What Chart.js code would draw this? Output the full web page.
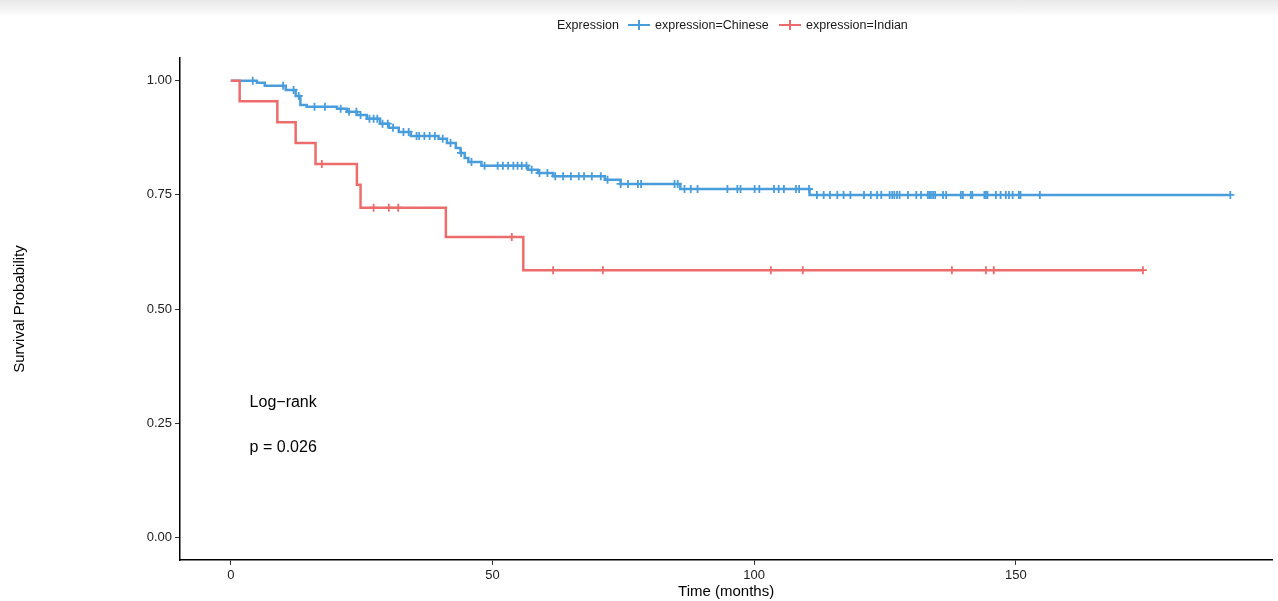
<!DOCTYPE html>
<html>
<head>
<meta charset="utf-8">
<script src="https://cdn.jsdelivr.net/npm/chart.js@4.4.0/dist/chart.umd.min.js"></script>
<style>
  html, body { margin: 0; padding: 0; background: #fff; }
  #wrap { position: relative; width: 1278px; height: 601px; }
  #shade { position: absolute; left: 0; top: 0; width: 1278px; height: 16px;
           background: linear-gradient(#e9e9e9, #f6f6f6 70%, #fff); }
  .lg { position: absolute; top: 17px; font: 12.5px "Liberation Sans", Arial, sans-serif;
        color: #1a1a1a; white-space: nowrap; line-height: 16px; }
  .key { position: absolute; top: 24px; width: 22px; height: 2px; }
  .key::after { content: ""; position: absolute; left: 10px; top: -4px; width: 2px; height: 10px; background: inherit; }
</style>
</head>
<body>
<div id="wrap">
  <div id="shade"></div>
  <canvas id="km" width="1278" height="601"></canvas>
  <span class="lg" style="left:557px">Expression</span>
  <span class="key" style="left:628px;background:#4a9ddb"></span>
  <span class="lg" style="left:655px">expression=Chinese</span>
  <span class="key" style="left:779px;background:#ee6b6b"></span>
  <span class="lg" style="left:806px">expression=Indian</span>
</div>
<script>
const blue = "#4a9ddb";
const red = "#ee6b6b";

// Kaplan-Meier steps (time in months, survival after the drop)
const chineseEventTime = [5, 6.5, 10.5, 12.4, 13.3, 14.5, 20.3, 22.2, 24.1, 26, 28.5, 30.2, 32.1, 34.4,
  39.7, 41.3, 43, 43.9, 44.7, 45.4, 47.9, 56.8, 58.7, 61.6, 71.5, 74.5, 85.9, 110.6];
const chineseEventSurv = [0.996, 0.989, 0.980, 0.967, 0.947, 0.943, 0.939, 0.932, 0.925, 0.917, 0.906, 0.897, 0.888, 0.879,
  0.873, 0.864, 0.853, 0.842, 0.831, 0.822, 0.814, 0.805, 0.798, 0.791, 0.783, 0.774, 0.763, 0.750];
const chineseEnd = 191;
const chineseCensorTime = [4.2, 10, 12, 13, 16, 18, 21, 22.6, 24, 24.8, 26.5, 27.3, 28, 29, 30, 31, 33, 34, 35.5, 36,
  37, 38, 39, 40.5, 42, 44, 46, 48.5, 51, 52, 53, 54, 54.8, 55.6, 56.5, 57.5, 59, 60.5, 62, 63.5, 65, 66.5, 67.5,
  69, 70.7, 72, 74.5, 75.9, 77.8, 78.4, 84.8, 85.4, 86.7, 87.9, 89.2, 94.9, 96.8, 97.4, 100.1, 101, 103.8, 104.7,
  105.7, 108, 108.6, 110.5, 112, 113.3, 114.5, 115.9, 117.1, 118.4, 121, 122.3, 123.5, 124.3, 125.9, 126.4, 126.8,
  127.3, 127.8, 129.4, 131.0, 131.9, 133.2, 133.5, 133.8, 134.2, 134.6, 136.1, 136.7, 139.5, 139.9, 141.4, 141.7,
  144.0, 144.3, 144.6, 146.2, 147.1, 148.1, 148.7, 149.4, 150.6, 150.9, 154.6, 191];

const indianEventTime = [1.7, 8.9, 12.4, 16.2, 24.1, 24.8, 41.1, 55.9];
const indianEventSurv = [0.955, 0.909, 0.864, 0.818, 0.772, 0.722, 0.658, 0.585];
const indianEnd = 174.3;
const indianCensorTime = [17.4, 27.3, 30.2, 32.0, 53.7, 61.6, 71.1, 103.2, 109.3, 137.8, 144.3, 145.8, 174.3];

const xTicks = [0, 50, 100, 150];
const yTicks = [0, 0.25, 0.5, 0.75, 1];

function survAt(times, survs, t) {
  let s = 1;
  for (let i = 0; i < times.length; i++) {
    if (times[i] <= t) s = survs[i];
  }
  return s;
}
function curve(times, survs, end) {
  const pts = [{ x: 0, y: 1 }];
  times.forEach((t, i) => pts.push({ x: t, y: survs[i] }));
  pts.push({ x: end, y: survs[survs.length - 1] });
  return pts;
}
function censors(times, survs, cens) {
  return cens.map(t => ({ x: t, y: survAt(times, survs, t) }));
}

const annot = {
  id: "annot",
  afterDatasetsDraw(chart) {
    const { ctx, scales: { x, y } } = chart;
    ctx.save();
    ctx.fillStyle = "#000";
    ctx.font = '16px "Liberation Sans", Arial, sans-serif';
    ctx.textBaseline = "middle";
    ctx.textAlign = "left";
    ctx.fillText("Log\u2212rank", x.getPixelForValue(3.6), y.getPixelForValue(0.296));
    ctx.fillText("p = 0.026", x.getPixelForValue(3.6), y.getPixelForValue(0.197));
    ctx.restore();
  }
};

const tickFont = { family: '"Liberation Sans", Arial, sans-serif', size: 13 };
const titleFont = { family: '"Liberation Sans", Arial, sans-serif', size: 15 };

new Chart(document.getElementById("km"), {
  type: "scatter",
  plugins: [annot],
  data: {
    datasets: [
      { label: "expression=Indian", data: curve(indianEventTime, indianEventSurv, indianEnd),
        showLine: true, stepped: "before", borderColor: red, borderWidth: 2.5, pointRadius: 0 },
      { label: "Indian censored", data: censors(indianEventTime, indianEventSurv, indianCensorTime),
        showLine: false, pointStyle: "cross", pointRadius: 4, borderColor: red, borderWidth: 1.8 },
      { label: "expression=Chinese", data: curve(chineseEventTime, chineseEventSurv, chineseEnd),
        showLine: true, stepped: "before", borderColor: blue, borderWidth: 2.5, pointRadius: 0 },
      { label: "Chinese censored", data: censors(chineseEventTime, chineseEventSurv, chineseCensorTime),
        showLine: false, pointStyle: "cross", pointRadius: 4, borderColor: blue, borderWidth: 1.8 },
    ],
  },
  options: {
    responsive: false,
    animation: false,
    layout: { padding: { top: 58, left: 0, right: 0, bottom: 0 } },
    plugins: { legend: { display: false }, tooltip: { enabled: false } },
    scales: {
      x: {
        type: "linear", min: -9.7, max: 199,
        afterBuildTicks: (s) => { s.ticks = xTicks.map(v => ({ value: v })); },
        afterFit: (s) => { s.height = 41; },
        border: { display: true, color: "#000", width: 1.5 },
        grid: { display: true, drawOnChartArea: false, drawTicks: true, tickLength: 5, color: "#333" },
        ticks: { color: "#222", font: tickFont, padding: 3, maxRotation: 0 },
        title: { display: true, text: "Time (months)", color: "#000", font: titleFont, padding: { top: 0, bottom: 0 } },
      },
      y: {
        min: -0.05, max: 1.05,
        afterBuildTicks: (s) => { s.ticks = yTicks.map(v => ({ value: v })); },
        afterFit: (s) => { s.width = 180; },
        border: { display: true, color: "#000", width: 1.5 },
        grid: { display: true, drawOnChartArea: false, drawTicks: true, tickLength: 5, color: "#333" },
        ticks: { color: "#222", font: tickFont, padding: 3, callback: (v) => Number(v).toFixed(2) },
        title: { display: true, text: "Survival Probability", color: "#000", font: titleFont, padding: { top: 11, bottom: 0 } },
      },
    },
  },
});
</script>
</body>
</html>
